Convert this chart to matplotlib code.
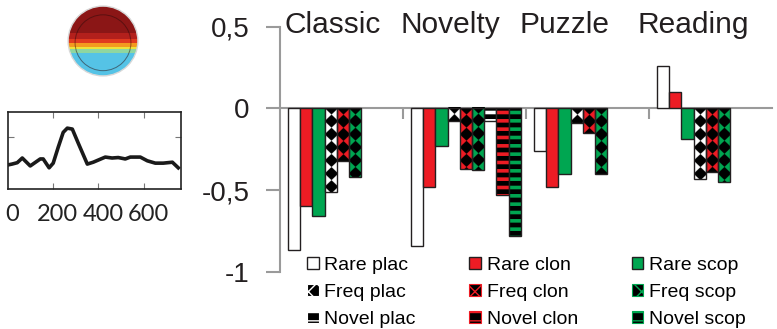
import numpy as np
import matplotlib
matplotlib.use('Agg')
import matplotlib.pyplot as plt
import matplotlib.patches as mpatches
from matplotlib.patches import Circle
from matplotlib.colors import to_rgb

plt.rcParams['font.family'] = ['Liberation Sans', 'DejaVu Sans']

# dados
grupos = ['Classic', 'Novelty', 'Puzzle', 'Reading']
nan = np.nan
rare_plac = [-0.87, -0.84, -0.26, 0.26]
rare_clon = [-0.60, -0.48, -0.48, 0.10]
rare_scop = [-0.66, -0.23, -0.40, -0.19]
freq_plac = [-0.51, -0.08, -0.09, -0.43]
freq_clon = [-0.32, -0.37, -0.15, -0.39]
freq_scop = [-0.42, -0.38, -0.40, -0.45]
novel_plac = [nan, -0.08, nan, nan]
novel_clon = [nan, -0.53, nan, nan]
novel_scop = [nan, -0.78, nan, nan]
series_names = ['Rare plac', 'Rare clon', 'Rare scop',
                'Freq plac', 'Freq clon', 'Freq scop',
                'Novel plac', 'Novel clon', 'Novel scop']
y_ticks = [-1, -0.5, 0, 0.5]
y_tick_labels = ['-1', '-0,5', '0', '0,5']

# forma de onda (ERP)
onda_ms = [0, 20, 43, 65, 100, 144, 157, 183, 201, 223, 245, 263, 285, 311,
           351, 377, 430, 460, 487, 518, 540, 584, 615, 650, 685, 725, 751]
onda_amp = [0.0, 0.1, 0.25, 0.75, -0.1, 0.65, 0.65, -0.3, 0.2, 1.9, 3.5, 3.95,
            3.85, 2.35, 0.1, 0.3, 0.85, 0.75, 0.8, 0.65, 0.85, 0.85, 0.45,
            0.2, 0.2, 0.3, -0.3]
onda_ticks = [0, 200, 400, 600]

# mapa topográfico (faixas de cor de cima para baixo)
topo_limites = [1.0, 0.22, 0.06, -0.06, -0.16, -0.24, -0.34, -1.0]
topo_cores = ['#8b1616', '#b3201c', '#e03a1f', '#f39a1f', '#eee23a', '#8fd6a0', '#55c3e6']

W, H = 777, 329
fig = plt.figure(figsize=(W / 100, H / 100), dpi=100)

# eixo principal
ax = fig.add_axes([280 / W, 1 - 271.7 / H, 492 / W, 245 / H])
ax.set_xlim(0, 4)
ax.set_ylim(-1, 0.5)
px_x = 492 / 4      # pixels por grupo
px_y = 245 / 1.5    # pixels por unidade

cores = ['#ffffff', '#ed1c24', '#00a651']
valores = [rare_plac, rare_clon, rare_scop, freq_plac, freq_clon, freq_scop,
           novel_plac, novel_clon, novel_scop]
larg = 12.2 / 123
marg = 8 / 123
borda = '#231f20'


def textura_losango(cor, altura_px, largura_px, d=13.0, ss=4):
    # xadrez rodado 45 graus: losangos pretos sobre a cor
    nx = max(int(round(largura_px * ss)), 1)
    ny = max(int(round(altura_px * ss)), 1)
    xs = (np.arange(nx) + 0.5) / ss + (d / 2 - largura_px / 2)
    ys = (np.arange(ny) + 0.5) / ss
    X, Y = np.meshgrid(xs, ys)
    preto = (np.floor((X + Y) / d) + np.floor((X - Y) / d)) % 2 == 0
    img = np.empty((ny, nx, 3))
    img[:] = to_rgb(cor)
    img[preto] = 0.0
    return img


handles = []
for j, vals in enumerate(valores):
    cor = cores[j % 3]
    tipo = j // 3
    x = np.arange(4) + marg + j * larg
    v = np.array(vals, dtype=float)
    ok = ~np.isnan(v)
    if tipo == 0:
        ax.bar(x[ok], v[ok], width=larg, align='edge', color=cor, edgecolor=borda, lw=1)
        h = mpatches.Patch(facecolor=cor, edgecolor=borda, lw=1)
    elif tipo == 1:
        bars = ax.bar(x[ok], v[ok], width=larg, align='edge', fill=False,
                      edgecolor=borda, lw=1, zorder=3)
        for b in bars:
            x0, y0 = b.get_x(), b.get_y()
            hh = b.get_height()
            img = textura_losango(cor, abs(hh) * px_y, larg * px_x)
            top = max(y0, y0 + hh)
            bot = min(y0, y0 + hh)
            ax.imshow(img, extent=(x0, x0 + larg, bot, top), aspect='auto',
                      interpolation='antialiased', zorder=2)
        h = mpatches.Patch(facecolor='black', edgecolor=cor, hatch='xx', lw=0.8)
        if hasattr(h, 'set_hatch_linewidth'):
            h.set_hatch_linewidth(2.0)
    else:
        bars = ax.bar(x[ok], v[ok], width=larg, align='edge', color='black',
                      edgecolor=cor, hatch='--', lw=0)
        for b in bars:
            if hasattr(b, 'set_hatch_linewidth'):
                b.set_hatch_linewidth(2.6)
        ax.bar(x[ok], v[ok], width=larg, align='edge', fill=False, edgecolor=borda, lw=1)
        h = mpatches.Patch(facecolor='black', edgecolor=cor, hatch='--', lw=0.8)
        if hasattr(h, 'set_hatch_linewidth'):
            h.set_hatch_linewidth(2.0)
    handles.append(h)

ax.set_xlim(0, 4)
ax.set_ylim(-1, 0.5)
for s in ['top', 'right']:
    ax.spines[s].set_visible(False)
ax.spines['left'].set_color('#9a9a9a')
ax.spines['left'].set_linewidth(1.5)
ax.spines['bottom'].set_position(('data', 0))
ax.spines['bottom'].set_color('#9a9a9a')
ax.spines['bottom'].set_linewidth(1.5)
ax.spines['bottom'].set_zorder(0.5)
ax.set_yticks(y_ticks, y_tick_labels, fontsize=20, color='#231f20')
ax.tick_params(axis='y', length=10, width=1.5, color='#9a9a9a', pad=12)
ax.set_xticks([1, 2, 3], ['', '', ''])
ax.tick_params(axis='x', length=8, width=1.5, color='#9a9a9a')

titulo_x = [0.04, 0.976, 1.95, 2.91]
for nome, xt in zip(grupos, titulo_x):
    ax.text(xt, 0.461, nome, fontsize=21.5, color='#231f20', va='baseline', ha='left')

# legenda: colunas plac / clon / scop
ordem = [0, 3, 6, 1, 4, 7, 2, 5, 8]
fig.legend([handles[i] for i in ordem], [series_names[i] for i in ordem],
           ncol=3, loc='upper left', bbox_to_anchor=(307 / W, 1 - 257 / H),
           frameon=False, fontsize=14, handlelength=0.6, handleheight=0.6,
           handletextpad=0.3, columnspacing=2.75, labelspacing=0.5,
           borderpad=0, borderaxespad=0)

# painel da forma de onda
axw = fig.add_axes([7.5 / W, 1 - 189 / H, 173.5 / W, 77 / H])
axw.plot(onda_ms, onda_amp, color='#1a1a1a', lw=2.6, solid_joinstyle='round')
axw.set_xlim(0, 763)
axw.set_ylim(-2.57, 5.68)
axw.set_xticks(onda_ticks[1:], [])
axw.set_yticks([3], [])
axw.tick_params(direction='in', length=4, color='#777777', top=True, right=True)
for s in axw.spines.values():
    s.set_color('#222222')
    s.set_linewidth(1.2)
for t in onda_ticks:
    axw.text(t + 20, -5.3, str(t), fontsize=17, family=['Lato', 'DejaVu Sans'],
             color='#222222', ha='center', va='center', clip_on=False)

# mapa topográfico da cabeça
axh = fig.add_axes([66 / W, 1 - 78 / H, 74 / W, 74 / H])
axh.set_xlim(-1.06, 1.06)
axh.set_ylim(-1.06, 1.06)
axh.set_aspect('equal')
axh.axis('off')
circ = Circle((0, 0), 1.0, transform=axh.transData)
for k, cor in enumerate(topo_cores):
    p = axh.fill_between([-1, 1], topo_limites[k + 1], topo_limites[k], color=cor, lw=0)
    p.set_clip_path(circ)
axh.add_patch(Circle((0, 0), 1.0, fill=False, edgecolor='#d8d8d8', lw=1.0))
axh.add_patch(Circle((0, -0.05), 0.8, fill=False, edgecolor='#2a0a0a', lw=0.7, alpha=0.5))

fig.savefig('out.png', dpi=100)
